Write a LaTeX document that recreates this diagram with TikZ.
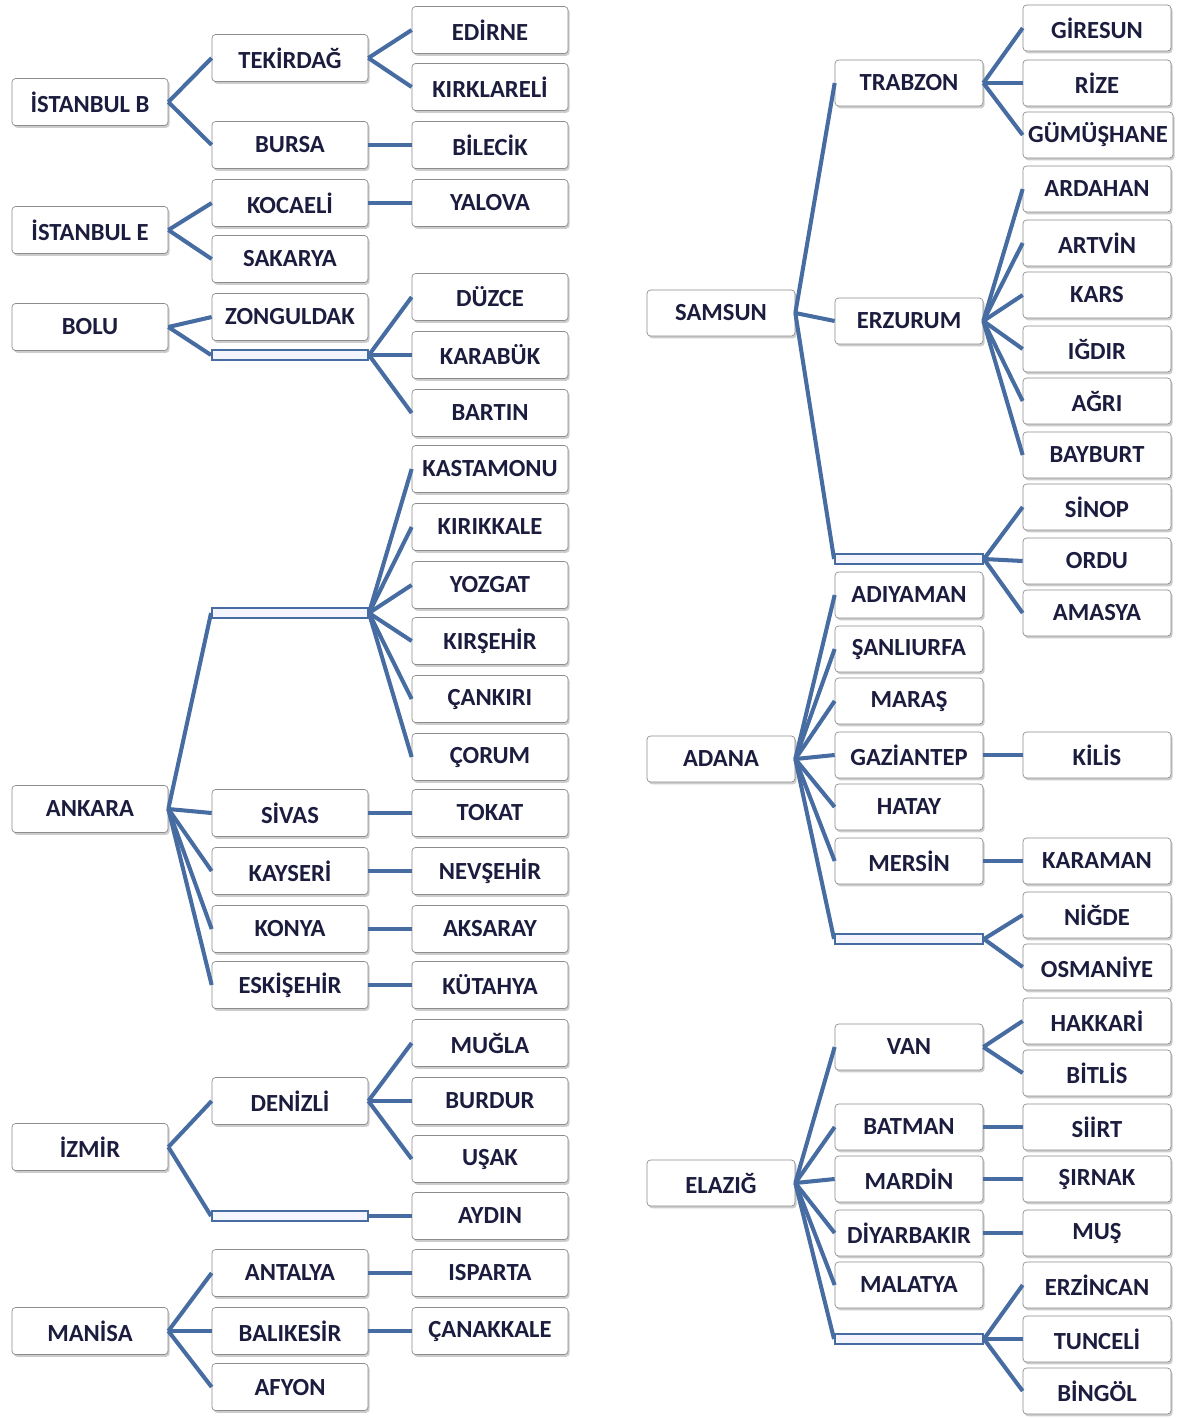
\documentclass[tikz,border=0pt]{standalone}
\usepackage{fontspec}
\setmainfont{Carlito}
\usetikzlibrary{shadows}
\definecolor{ink}{RGB}{28,28,62}
\definecolor{linkblue}{RGB}{70,108,162}
\tikzset{
  box/.style={draw=black!45, fill=white, rounded corners=2pt, minimum width=3.12cm, minimum height=0.94cm, inner sep=1pt, text=ink, font=\fontsize{14}{16}\selectfont\bfseries, drop shadow={opacity=0.4, shadow xshift=0.9pt, shadow yshift=-1.3pt}},
  rbox/.style={box, minimum width=2.96cm, minimum height=0.92cm},
  gap/.style={draw=linkblue, line width=1.1pt, fill=blue!4, minimum width=3.12cm, minimum height=0.2cm, inner sep=0pt},
  rgap/.style={gap, minimum width=2.96cm},
  link/.style={draw=linkblue, line width=2.3pt}
}
\begin{document}
\begin{tikzpicture}[x=0.02cm, y=-0.02cm]
		\useasboundingbox (0,0) rectangle (1177,1418);
		
		%%%%% LEFT SIDE %%%%%
		
		\node[box] (istb) at (90, 102) {İSTANBUL B};
		\node[box] (iste) at (90, 230) {İSTANBUL E};
		\node[box] (bolu) at (90, 327) {BOLU};
		\node[box] (ankara) at (90, 809) {ANKARA};
		\node[box] (izmir) at (90, 1147) {İZMİR};
		\node[box] (manisa) at (90, 1331) {MANİSA};
		
		\node[box] (tekirdag) at (290, 58) {TEKİRDAĞ};
		\node[box] (bursa) at (290, 145) {BURSA};
		\node[box] (kocaeli) at (290, 203) {KOCAELİ};
		\node[box] (sakarya) at (290, 259) {SAKARYA};
		\node[box] (zonguldak) at (290, 317) {ZONGULDAK};
		\node[gap] (ebolu) at (290, 355) {};
		\node[gap] (eankara) at (290, 613) {};
		\node[box] (sivas) at (290, 813) {SİVAS};
		\node[box] (kayseri) at (290, 871) {KAYSERİ};
		\node[box] (konya) at (290, 929) {KONYA};
		\node[box] (eskisehir) at (290, 985) {ESKİŞEHİR};
		\node[box] (denizli) at (290, 1101) {DENİZLİ};
		\node[gap] (eizmir) at (290, 1216) {};
		\node[box] (antalya) at (290, 1273) {ANTALYA};
		\node[box] (balikesir) at (290, 1331) {BALIKESİR};
		\node[box] (afyon) at (290, 1387) {AFYON};
		
		\node[box] (edirne) at (490, 30) {EDİRNE};
		\node[box] (kirklareli) at (490, 87) {KIRKLARELİ};
		\node[box] (bilecik) at (490, 145) {BİLECİK};
		\node[box] (yalova) at (490, 203) {YALOVA};
		\node[box] (duzce) at (490, 297) {DÜZCE};
		\node[box] (karabuk) at (490, 355) {KARABÜK};
		\node[box] (bartin) at (490, 413) {BARTIN};
		\node[box] (kastamonu) at (490, 469) {KASTAMONU};
		\node[box] (kirikkale) at (490, 527) {KIRIKKALE};
		\node[box] (yozgat) at (490, 585) {YOZGAT};
		\node[box] (kirsehir) at (490, 641) {KIRŞEHİR};
		\node[box] (cankiri) at (490, 699) {ÇANKIRI};
		\node[box] (corum) at (490, 757) {ÇORUM};
		\node[box] (tokat) at (490, 813) {TOKAT};
		\node[box] (nevsehir) at (490, 871) {NEVŞEHİR};
		\node[box] (aksaray) at (490, 929) {AKSARAY};
		\node[box] (kutahya) at (490, 985) {KÜTAHYA};
		\node[box] (mugla) at (490, 1043) {MUĞLA};
		\node[box] (burdur) at (490, 1101) {BURDUR};
		\node[box] (usak) at (490, 1159) {UŞAK};
		\node[box] (aydin) at (490, 1216) {AYDIN};
		\node[box] (isparta) at (490, 1273) {ISPARTA};
		\node[box] (canakkale) at (490, 1331) {ÇANAKKALE};
		
		%%%%% RIGHT SIDE %%%%%
		
		\node[rbox] (samsun) at (721, 313) {SAMSUN};
		\node[rbox] (adana) at (721, 759) {ADANA};
		\node[rbox] (elazig) at (721, 1183) {ELAZIĞ};
		
		\node[rbox] (trabzon) at (909, 83) {TRABZON};
		\node[rbox] (erzurum) at (909, 321) {ERZURUM};
		\node[rgap] (esamsun) at (909, 559) {};
		\node[rbox] (adiyaman) at (909, 595) {ADIYAMAN};
		\node[rbox] (sanliurfa) at (909, 649) {ŞANLIURFA};
		\node[rbox] (maras) at (909, 701) {MARAŞ};
		\node[rbox] (gaziantep) at (909, 755) {GAZİANTEP};
		\node[rbox] (hatay) at (909, 807) {HATAY};
		\node[rbox] (mersin) at (909, 861) {MERSİN};
		\node[rgap] (eadana) at (909, 939) {};
		\node[rbox] (van) at (909, 1047) {VAN};
		\node[rbox] (batman) at (909, 1127) {BATMAN};
		\node[rbox] (mardin) at (909, 1179) {MARDİN};
		\node[rbox] (diyarbakir) at (909, 1233) {DİYARBAKIR};
		\node[rbox] (malatya) at (909, 1285) {MALATYA};
		\node[rgap] (eelazig) at (909, 1339) {};
		
		\node[rbox] (giresun) at (1097, 28) {GİRESUN};
		\node[rbox] (rize) at (1097, 83) {RİZE};
		\node[rbox, minimum width=3.0cm] (gumushane) at (1098, 135) {GÜMÜŞHANE};
		\node[rbox] (ardahan) at (1097, 189) {ARDAHAN};
		\node[rbox] (artvin) at (1097, 243) {ARTVİN};
		\node[rbox] (kars) at (1097, 295) {KARS};
		\node[rbox] (igdir) at (1097, 349) {IĞDIR};
		\node[rbox] (agri) at (1097, 401) {AĞRI};
		\node[rbox] (bayburt) at (1097, 455) {BAYBURT};
		\node[rbox] (sinop) at (1097, 507) {SİNOP};
		\node[rbox] (ordu) at (1097, 561) {ORDU};
		\node[rbox] (amasya) at (1097, 613) {AMASYA};
		\node[rbox] (kilis) at (1097, 755) {KİLİS};
		\node[rbox] (karaman) at (1097, 861) {KARAMAN};
		\node[rbox] (nigde) at (1097, 915) {NİĞDE};
		\node[rbox] (osmaniye) at (1097, 967) {OSMANİYE};
		\node[rbox] (hakkari) at (1097, 1021) {HAKKARİ};
		\node[rbox] (bitlis) at (1097, 1073) {BİTLİS};
		\node[rbox] (siirt) at (1097, 1127) {SİİRT};
		\node[rbox] (sirnak) at (1097, 1179) {ŞIRNAK};
		\node[rbox] (mus) at (1097, 1233) {MUŞ};
		\node[rbox] (erzincan) at (1097, 1285) {ERZİNCAN};
		\node[rbox] (tunceli) at (1097, 1339) {TUNCELİ};
		\node[rbox] (bingol) at (1097, 1391) {BİNGÖL};
		
		%%%%% LINKS %%%%%
		
		\foreach \p/\c in {istb/tekirdag, istb/bursa, tekirdag/edirne, tekirdag/kirklareli, bursa/bilecik,
			iste/kocaeli, iste/sakarya, kocaeli/yalova,
			bolu/zonguldak, bolu/ebolu, ebolu/duzce, ebolu/karabuk, ebolu/bartin,
			ankara/eankara, ankara/sivas, ankara/kayseri, ankara/konya, ankara/eskisehir,
			eankara/kastamonu, eankara/kirikkale, eankara/yozgat, eankara/kirsehir, eankara/cankiri, eankara/corum,
			sivas/tokat, kayseri/nevsehir, konya/aksaray, eskisehir/kutahya,
			izmir/denizli, izmir/eizmir, denizli/mugla, denizli/burdur, denizli/usak, eizmir/aydin,
			manisa/antalya, manisa/balikesir, manisa/afyon, antalya/isparta, balikesir/canakkale,
			samsun/trabzon, samsun/erzurum, samsun/esamsun,
			trabzon/giresun, trabzon/rize, trabzon/gumushane,
			erzurum/ardahan, erzurum/artvin, erzurum/kars, erzurum/igdir, erzurum/agri, erzurum/bayburt,
			esamsun/sinop, esamsun/ordu, esamsun/amasya,
			adana/adiyaman, adana/sanliurfa, adana/maras, adana/gaziantep, adana/hatay, adana/mersin, adana/eadana,
			gaziantep/kilis, mersin/karaman, eadana/nigde, eadana/osmaniye,
			elazig/van, elazig/batman, elazig/mardin, elazig/diyarbakir, elazig/malatya, elazig/eelazig,
			van/hakkari, van/bitlis, batman/siirt, mardin/sirnak, diyarbakir/mus,
			eelazig/erzincan, eelazig/tunceli, eelazig/bingol}
		\draw[link] (\p.east) -- (\c.west);
		
	\end{tikzpicture}
\end{document}
